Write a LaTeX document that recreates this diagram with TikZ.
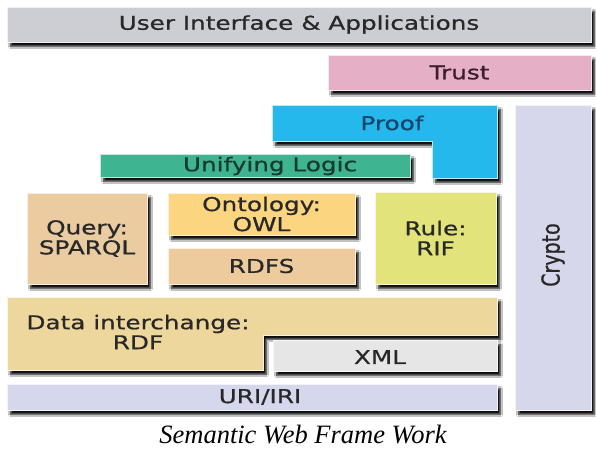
\documentclass[tikz,border=0pt]{standalone}
\usepackage{fontspec}
\setmainfont{Liberation Serif}
\newfontfamily\layerfont[FakeStretch=1.3, FakeBold=0.8]{DejaVu Sans}
\newfontfamily\plainlayerfont[FakeBold=0.8]{DejaVu Sans}
\usetikzlibrary{shadows.blur}

% layer colours
\definecolor{uiC}{RGB}{205,206,212}
\definecolor{trustC}{RGB}{229,176,198}
\definecolor{proofC}{RGB}{36,184,236}
\definecolor{logicC}{RGB}{62,180,145}
\definecolor{queryC}{RGB}{235,203,160}
\definecolor{owlC}{RGB}{252,213,128}
\definecolor{rdfsC}{RGB}{238,203,156}
\definecolor{ruleC}{RGB}{226,228,123}
\definecolor{cryptoC}{RGB}{214,215,235}
\definecolor{rdfC}{RGB}{238,215,156}
\definecolor{xmlC}{RGB}{230,230,231}
\definecolor{uriC}{RGB}{213,215,236}
\definecolor{inkC}{RGB}{40,40,40}

\tikzset{
  layershadow/.style={blur shadow={shadow xshift=3.5pt, shadow yshift=-4.5pt,
      shadow blur radius=2pt, shadow blur steps=6, shadow opacity=95}},
  layer/.style={fill=#1, draw=white!70!#1, line width=1pt, layershadow},
  layerbox/.style={layer=#1, anchor=north west, inner sep=0pt, outer sep=0pt,
      align=center, text=inkC, font=\layerfont\fontsize{19}{20}\selectfont},
  layertext/.style={text=inkC, align=center, inner sep=0pt,
      font=\layerfont\fontsize{19}{20}\selectfont},
}

\begin{document}
\begin{tikzpicture}[x=1pt, y=-1pt]
\useasboundingbox (0,0) rectangle (596,450);
\fill[white] (0,0) rectangle (596,450);

% top layers
\node[layerbox=uiC, minimum width=584pt, minimum height=35pt] (ui) at (7,7)
  {User Interface \& Applications};
\node[layerbox=trustC, minimum width=263pt, minimum height=35pt,
      text={rgb,255:red,58;green,30;blue,44}] (trust) at (328,55) {Trust};

% crypto column
\node[layerbox=cryptoC, minimum width=76pt, minimum height=305pt] (crypto) at (515,105) {};
\node[text=inkC, rotate=90, inner sep=0pt] (cryptotext) at (553,255)
  {\plainlayerfont\fontsize{19}{20}\selectfont\scalebox{1}[1.3]{Crypto}};

% proof (L-shaped)
\path[layer=proofC] (272,105) -- (497,105) -- (497,178) -- (432,178)
  -- (432,141) -- (272,141) -- cycle;
\node[layertext, text={rgb,255:red,20;green,70;blue,110}] (proof) at (392,123) {Proof};

% unifying logic
\node[layerbox=logicC, minimum width=310pt, minimum height=23pt] (logicbox) at (100,154) {};
\node[layertext, text={rgb,255:red,26;green,58;blue,48}] (logic) at (270,166) {Unifying Logic};

% query, ontology, rdfs, rules
\node[layerbox=queryC, minimum width=120pt, minimum height=91pt] (query) at (27,193)
  {Query:\\SPARQL};
\node[layerbox=owlC, minimum width=187pt, minimum height=42pt] (owl) at (168,193)
  {Ontology:\\OWL};
\node[layerbox=rdfsC, minimum width=187pt, minimum height=36pt] (rdfs) at (168,248)
  {RDFS};
\node[layerbox=ruleC, minimum width=121pt, minimum height=92pt] (rule) at (375,192)
  {Rule:\\RIF};

% data interchange (L-shaped)
\path[layer=rdfC] (7,297) -- (497,297) -- (497,335) -- (263,335)
  -- (263,370) -- (7,370) -- cycle;
\node[layertext] (rdf) at (138,332) {Data interchange:\\RDF};

% xml and uri
\node[layerbox=xmlC, minimum width=224pt, minimum height=31pt] (xmlbox) at (273,340) {};
\node[layertext] (xml) at (380,357) {XML};
\node[layerbox=uriC, minimum width=490pt, minimum height=26pt] (uribox) at (7,384) {};
\node[layertext] (uri) at (260,397) {URI/IRI};

% caption
\node[anchor=base, inner sep=0pt] (caption) at (303,443)
  {\fontsize{26.5}{30}\selectfont\itshape Semantic Web Frame Work};
\end{tikzpicture}
\end{document}
